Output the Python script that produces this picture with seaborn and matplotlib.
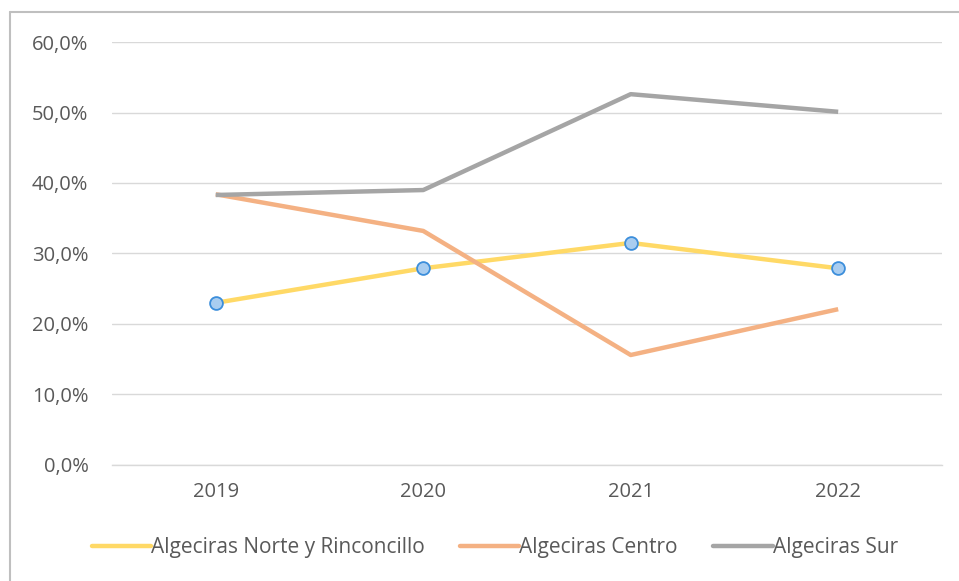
import matplotlib
matplotlib.use("Agg")
import matplotlib.pyplot as plt
from matplotlib.lines import Line2D
from matplotlib.ticker import FuncFormatter
import pandas as pd
import seaborn as sns

years = ["2019", "2020", "2021", "2022"]
norte = [23.0, 27.9, 31.5, 27.9]
centro = [38.4, 33.2, 15.6, 22.1]
sur = [38.3, 39.0, 52.6, 50.1]
series_names = ["Algeciras Norte y Rinconcillo", "Algeciras Centro", "Algeciras Sur"]
colors = ["#FFD966", "#F4B183", "#A5A5A5"]

df = pd.DataFrame({
    "year": years * 3,
    "value": norte + centro + sur,
    "serie": [series_names[0]] * 4 + [series_names[1]] * 4 + [series_names[2]] * 4,
})

sns.set_style("white")
plt.rcParams["font.family"] = ["Open Sans", "DejaVu Sans"]

fig = plt.figure(figsize=(9.59, 5.81), dpi=100)
ax = fig.add_axes([0.1168, 0.1997, 0.8654, 0.728])

sns.lineplot(data=df, x="year", y="value", hue="serie", hue_order=series_names,
             palette=colors, linewidth=3.2, sort=False, legend=False, ax=ax)
# blue-ish markers only on the first series
sns.scatterplot(x=years, y=norte, color="#A9CDF0", edgecolor="#3C8EDB",
                linewidth=1.3, s=85, zorder=5, ax=ax, legend=False)
for line in ax.lines:
    line.set_solid_capstyle("butt")

ax.set_xlim(-0.5, 3.5)
ax.set_ylim(0, 60)
ax.set_yticks(range(0, 61, 10))
ax.yaxis.set_major_formatter(FuncFormatter(lambda v, _: f"{v:.1f}%".replace(".", ",")))
ax.grid(axis="y", color="#D9D9D9", linewidth=1)
ax.grid(axis="x", visible=False)
ax.set_axisbelow(True)
for s in ["top", "right", "left"]:
    ax.spines[s].set_visible(False)
ax.spines["bottom"].set_color("#D9D9D9")
ax.spines["bottom"].set_linewidth(1)
ax.tick_params(axis="both", length=0, labelsize=14.5, labelcolor="#595959")
ax.tick_params(axis="y", pad=17)
ax.tick_params(axis="x", pad=12)
ax.set_xlabel("")
ax.set_ylabel("")

handles = [Line2D([0], [0], color=c, linewidth=3.2) for c in colors]
fig.legend(handles, series_names, loc="center", bbox_to_anchor=(0.516, 0.057),
           ncol=3, frameon=False, fontsize=15, handlelength=2.84,
           handletextpad=0.0, columnspacing=1.7, labelcolor="#595959")

# outer frame of the chart (left and top)
fig.add_artist(Line2D([10 / 959, 10 / 959], [0, 1 - 12 / 581], color="#BFBFBF", linewidth=1.5))
fig.add_artist(Line2D([10 / 959, 1], [1 - 12 / 581, 1 - 12 / 581], color="#BFBFBF", linewidth=1.5))

fig.savefig("out.png", dpi=100)
